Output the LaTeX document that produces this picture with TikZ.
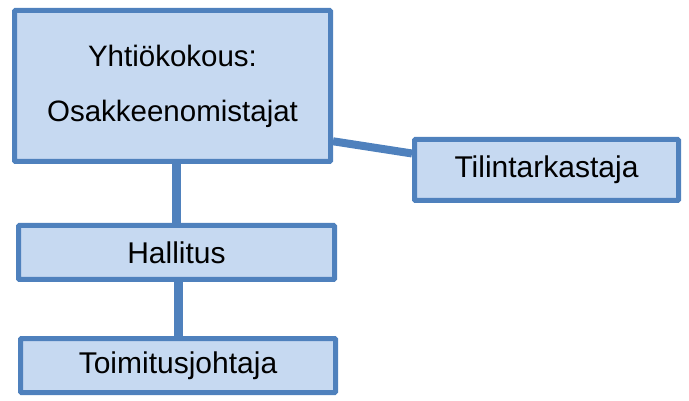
\documentclass[tikz,border=0pt]{standalone}
\usepackage{fontspec}
\setmainfont{Liberation Sans}
\usepackage{tikz}
\usetikzlibrary{calc}
\usetikzlibrary{backgrounds}

\definecolor{boxfill}{HTML}{C6D9F1}
\definecolor{boxline}{HTML}{4F81BD}

\begin{document}
\begin{tikzpicture}[x=1pt, y=-1pt,
    orgbox/.style={shape=rectangle, draw=boxline, fill=boxfill, line width=5pt,
        rounded corners=1pt, font=\fontsize{30}{55}\selectfont, align=center, inner sep=0pt},
    link/.style={draw=boxline, line width=9pt}]
        \useasboundingbox (0,0) rectangle (689,401);

        % owners
        \node (yhtio) at (172.5,86) [orgbox, minimum width=316pt, minimum height=151pt, font=\fontsize{29.5}{55}\selectfont] {Yhtiökokous:\\Osakkeenomistajat};
        \node (tilin) at (546.5,170) [orgbox, minimum width=264pt, minimum height=61pt] {Tilintarkastaja};

        % management
        \node (hallitus) at (176.5,252.5) [orgbox, minimum width=316pt, minimum height=54pt] {Hallitus};
        \node (toimitus) at (178,365.5) [orgbox, minimum width=315pt, minimum height=54pt] {Toimitusjohtaja};

        \begin{scope}[on background layer]
        \draw[link] (hallitus.north) -- (hallitus.north |- yhtio.south);
        \draw[link] (toimitus.north) -- (toimitus.north |- hallitus.south);
        \draw[link, line width=8pt] (yhtio.341) -- (tilin.173);
        \end{scope}
    \end{tikzpicture}
\end{document}
